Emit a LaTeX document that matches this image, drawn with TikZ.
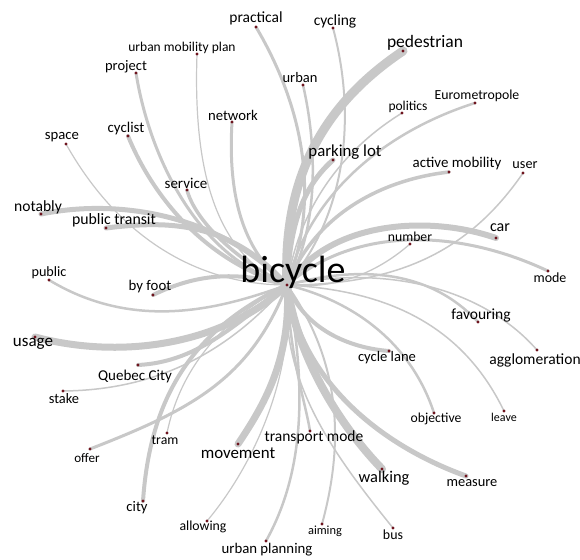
\documentclass[tikz,border=0pt]{standalone}
\usepackage{fontspec}
\setmainfont{Carlito}
\newcommand\lblsz[1]{\fontsize{#1}{#1}\selectfont}
\definecolor{edgegray}{RGB}{200,200,200}
\definecolor{dotred}{RGB}{110,20,30}
\tikzset{
  edge/.style={draw=edgegray, line cap=round},
  lbl/.style={inner sep=0pt, text=black},
  dotmark/.style={fill=dotred}
}
\begin{document}
\begin{tikzpicture}[x=1pt,y=-1pt]
\useasboundingbox[fill=white] (0,0) rectangle (580,559);
% dot coordinates
\coordinate (c) at (287,285);
\coordinate (practical) at (256,27);
\coordinate (ump) at (197,54);
\coordinate (project) at (136,73);
\coordinate (cycling) at (333,28);
\coordinate (pedestrian) at (403,51);
\coordinate (urban) at (303,85);
\coordinate (politics) at (402,113);
\coordinate (euro) at (475,103);
\coordinate (network) at (232,122);
\coordinate (space) at (66,144);
\coordinate (cyclist) at (128,136);
\coordinate (service) at (187,190);
\coordinate (parking) at (333,160);
\coordinate (active) at (449,172);
\coordinate (user) at (523,173);
\coordinate (notably) at (41,214);
\coordinate (ptransit) at (106,228);
\coordinate (car) at (496,238);
\coordinate (number) at (410,244);
\coordinate (mode) at (548,271);
\coordinate (public) at (49,280);
\coordinate (byfoot) at (153,295);
\coordinate (favouring) at (478,322);
\coordinate (usage) at (35,337);
\coordinate (agglo) at (537,350);
\coordinate (cyclelane) at (389,351);
\coordinate (quebec) at (138,365);
\coordinate (stake) at (63,391);
\coordinate (objective) at (434,413);
\coordinate (leave) at (504,411);
\coordinate (tram) at (167,433);
\coordinate (offer) at (90,449);
\coordinate (movement) at (238,444);
\coordinate (tmode) at (310,431);
\coordinate (walking) at (382,469);
\coordinate (measure) at (466,476);
\coordinate (city) at (143,501);
\coordinate (allowing) at (207,521);
\coordinate (uplanning) at (266,541);
\coordinate (aiming) at (322,524);
\coordinate (bus) at (393,528);
% edges
\draw[edge, line width=3] (c) .. controls (320,200) and (305,110) .. (practical);
\draw[edge, line width=1.2] (c) .. controls (215,255) and (193,170) .. (ump);
\draw[edge, line width=3] (c) .. controls (200,260) and (150,160) .. (project);
\draw[edge, line width=2] (c) .. controls (350,210) and (355,110) .. (cycling);
\draw[edge, line width=9] (c) .. controls (282,170) and (330,100) .. (pedestrian);
\draw[edge, line width=2.5] (c) .. controls (318,230) and (318,150) .. (urban);
\draw[edge, line width=1.5] (c) .. controls (300,200) and (350,145) .. (politics);
\draw[edge, line width=2.5] (c) .. controls (310,190) and (390,130) .. (euro);
\draw[edge, line width=3] (c) .. controls (240,250) and (228,190) .. (network);
\draw[edge, line width=1.2] (c) .. controls (200,285) and (120,240) .. (space);
\draw[edge, line width=4] (c) .. controls (200,260) and (150,190) .. (cyclist);
\draw[edge, line width=3.5] (c) .. controls (235,260) and (195,220) .. (service);
\draw[edge, line width=5] (c) .. controls (290,220) and (305,185) .. (parking);
\draw[edge, line width=3.5] (c) .. controls (315,215) and (380,180) .. (active);
\draw[edge, line width=1.5] (c) .. controls (400,285) and (470,250) .. (user);
\draw[edge, line width=5] (c) .. controls (220,215) and (120,198) .. (notably);
\draw[edge, line width=5] (c) .. controls (230,222) and (170,220) .. (ptransit);
\draw[edge, line width=6] (c) .. controls (330,220) and (430,215) .. (car);
\draw[edge, line width=1.3] (c) .. controls (340,290) and (380,270) .. (number);
\draw[edge, line width=3] (c) .. controls (350,230) and (450,225) .. (mode);
\draw[edge, line width=2.5] (c) .. controls (230,305) and (140,335) .. (public);
\draw[edge, line width=4] (c) .. controls (240,272) and (200,272) .. (byfoot);
\draw[edge, line width=2.5] (c) .. controls (360,265) and (430,270) .. (favouring);
\draw[edge, line width=7] (c) .. controls (230,340) and (130,362) .. (usage);
\draw[edge, line width=1.5] (c) .. controls (380,265) and (480,285) .. (agglo);
\draw[edge, line width=4] (c) .. controls (305,330) and (350,348) .. (cyclelane);
\draw[edge, line width=4] (c) .. controls (240,320) and (200,362) .. (quebec);
\draw[edge, line width=1.5] (c) .. controls (230,350) and (160,390) .. (stake);
\draw[edge, line width=2.5] (c) .. controls (350,300) and (410,340) .. (objective);
\draw[edge, line width=1.5] (c) .. controls (380,290) and (460,320) .. (leave);
\draw[edge, line width=1.2] (c) .. controls (220,320) and (180,370) .. (tram);
\draw[edge, line width=3] (c) .. controls (250,380) and (190,410) .. (offer);
\draw[edge, line width=7] (c) .. controls (292,360) and (262,408) .. (movement);
\draw[edge, line width=2.5] (c) .. controls (290,360) and (305,400) .. (tmode);
\draw[edge, line width=8] (c) .. controls (295,345) and (330,415) .. (walking);
\draw[edge, line width=5] (c) .. controls (300,380) and (380,445) .. (measure);
\draw[edge, line width=4] (c) .. controls (190,330) and (150,400) .. (city);
\draw[edge, line width=1.2] (c) .. controls (295,380) and (250,470) .. (allowing);
\draw[edge, line width=2.5] (c) .. controls (310,400) and (300,480) .. (uplanning);
\draw[edge, line width=2] (c) .. controls (340,360) and (345,440) .. (aiming);
\draw[edge, line width=1.5] (c) .. controls (280,380) and (330,450) .. (bus);
% dots
\foreach \d in {c,practical,ump,project,cycling,pedestrian,urban,politics,euro,network,space,cyclist,service,parking,active,user,notably,ptransit,car,number,mode,public,byfoot,favouring,usage,agglo,cyclelane,quebec,stake,objective,leave,tram,offer,movement,tmode,walking,measure,city,allowing,uplanning,aiming,bus}
  \fill[dotmark] (\d) circle (1.6);
% labels
\node[lbl, font=\lblsz{38}] (l-c) at (293,272) {bicycle};
\node[lbl, font=\lblsz{15.5}] (l-practical) at (256,18) {practical};
\node[lbl, font=\lblsz{13.5}] (l-ump) at (182,48) {urban mobility plan};
\node[lbl, font=\lblsz{14.5}] (l-project) at (126,67) {project};
\node[lbl, font=\lblsz{15.5}] (l-cycling) at (335,21) {cycling};
\node[lbl, font=\lblsz{17.5}] (l-pedestrian) at (425,43) {pedestrian};
\node[lbl, font=\lblsz{14.5}] (l-urban) at (300,78) {urban};
\node[lbl, font=\lblsz{13.5}] (l-politics) at (408,107) {politics};
\node[lbl, font=\lblsz{13.8}] (l-euro) at (477,96) {Eurometropole};
\node[lbl, font=\lblsz{14.7}] (l-network) at (233,115) {network};
\node[lbl, font=\lblsz{14.7}] (l-space) at (62,137) {space};
\node[lbl, font=\lblsz{14.9}] (l-cyclist) at (126,129) {cyclist};
\node[lbl, font=\lblsz{15}] (l-service) at (186,183) {service};
\node[lbl, font=\lblsz{16.8}] (l-parking) at (345,152) {parking lot};
\node[lbl, font=\lblsz{14.9}] (l-active) at (457,164) {active mobility};
\node[lbl, font=\lblsz{14.2}] (l-user) at (525,165) {user};
\node[lbl, font=\lblsz{15.6}] (l-notably) at (38,207) {notably};
\node[lbl, font=\lblsz{15.8}] (l-ptransit) at (114,220) {public transit};
\node[lbl, font=\lblsz{16}] (l-car) at (500,228) {car};
\node[lbl, font=\lblsz{13.7}] (l-number) at (410,237) {number};
\node[lbl, font=\lblsz{14}] (l-mode) at (550,278) {mode};
\node[lbl, font=\lblsz{14.2}] (l-public) at (49,273) {public};
\node[lbl, font=\lblsz{14.8}] (l-byfoot) at (150,287) {by foot};
\node[lbl, font=\lblsz{15.5}] (l-favouring) at (481,315) {favouring};
\node[lbl, font=\lblsz{17}] (l-usage) at (33,344) {usage};
\node[lbl, font=\lblsz{15.5}] (l-agglo) at (535,360) {agglomeration};
\node[lbl, font=\lblsz{14.6}] (l-cyclelane) at (387,358) {cycle lane};
\node[lbl, font=\lblsz{15}] (l-quebec) at (135,376) {Quebec City};
\node[lbl, font=\lblsz{14.4}] (l-stake) at (64,399) {stake};
\node[lbl, font=\lblsz{13.7}] (l-objective) at (436,419) {objective};
\node[lbl, font=\lblsz{12}] (l-leave) at (504,417) {leave};
\node[lbl, font=\lblsz{13.8}] (l-tram) at (165,440) {tram};
\node[lbl, font=\lblsz{13.1}] (l-offer) at (87,458) {offer};
\node[lbl, font=\lblsz{16.9}] (l-movement) at (238,453) {movement};
\node[lbl, font=\lblsz{15.5}] (l-tmode) at (314,437) {transport mode};
\node[lbl, font=\lblsz{16.4}] (l-walking) at (384,478) {walking};
\node[lbl, font=\lblsz{14.4}] (l-measure) at (472,483) {measure};
\node[lbl, font=\lblsz{14.6}] (l-city) at (137,508) {city};
\node[lbl, font=\lblsz{13.8}] (l-allowing) at (203,527) {allowing};
\node[lbl, font=\lblsz{14.8}] (l-uplanning) at (267,550) {urban planning};
\node[lbl, font=\lblsz{12.4}] (l-aiming) at (325,531) {aiming};
\node[lbl, font=\lblsz{13.9}] (l-bus) at (393,535) {bus};
\end{tikzpicture}
\end{document}
